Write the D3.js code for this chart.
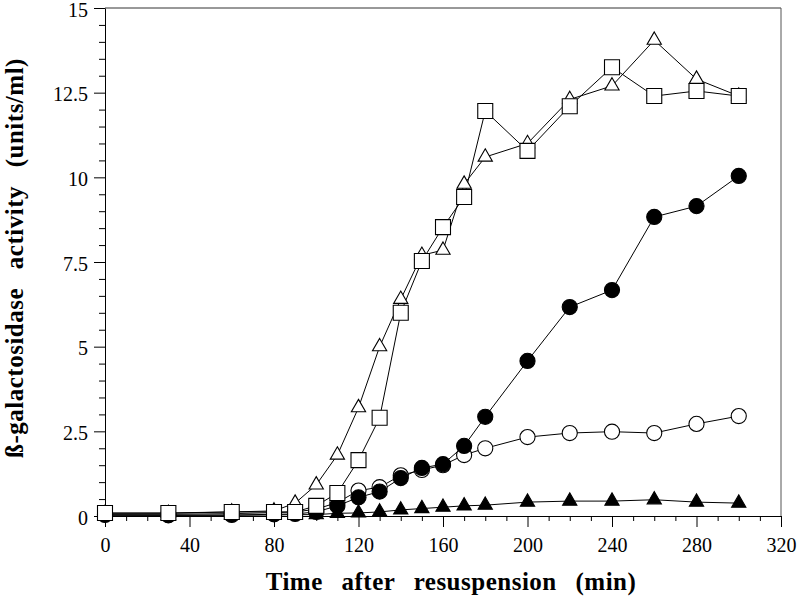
<!DOCTYPE html>
<html><head><meta charset="utf-8">
<script src="https://cdn.jsdelivr.net/npm/d3@7"></script>
<style>body{margin:0;background:#fff}</style>
</head><body><svg id="c" width="800" height="605"></svg>
<script>
// ---- data ----
const times = [0,30,60,80,90,100,110,120,130,140,150,160,170,180,200,220,240,260,280,300];
const openTriangles = [0.08,0.08,0.12,0.15,0.38,0.92,1.8,3.2,5.0,6.4,7.7,7.85,9.8,10.6,11.0,12.3,12.7,14.05,12.9,12.4];
const openSquares   = [0.09,0.09,0.12,0.12,0.12,0.3,0.68,1.65,2.9,6.0,7.53,8.53,9.42,11.96,10.78,12.1,13.25,12.4,12.55,12.4];
const openCircles   = [0.05,0.05,0.07,0.1,0.12,0.2,0.4,0.75,0.85,1.2,1.36,1.5,1.8,2.0,2.33,2.45,2.49,2.45,2.72,2.95];
const filledCircles = [0.03,0.02,0.03,0.05,0.06,0.12,0.3,0.55,0.72,1.12,1.42,1.53,2.07,2.93,4.58,6.17,6.67,8.83,9.15,10.04];
const filledTriangles = [0.02,0.02,0.02,0.03,0.04,0.04,0.08,0.09,0.12,0.18,0.22,0.26,0.3,0.32,0.41,0.44,0.44,0.48,0.41,0.38];
const xTicks = [0,40,80,120,160,200,240,280,320];
const yTicks = [0,2.5,5,7.5,10,12.5,15];
const yTickLabels = ["0","2.5","5","7.5","10","12.5","15"];
const xTitle = "Time after resuspension (min)";
const yTitle = "ß-galactosidase activity (units/ml)";

// ---- chart ----
const svg = d3.select("#c");
const x = d3.scaleLinear().domain([0,320]).range([105,781]);
const y = d3.scaleLinear().domain([0,15]).range([516,8]);
const serif = "'Liberation Serif', 'Times New Roman', serif";

// frame top/right
svg.append("line").attr("x1",105).attr("x2",781).attr("y1",y(15)).attr("y2",y(15)).attr("stroke","#333").attr("stroke-width",1);
svg.append("line").attr("x1",781).attr("x2",781).attr("y1",y(15)).attr("y2",y(0)).attr("stroke","#555").attr("stroke-width",1);

// x axis
const gx = svg.append("g").attr("transform",`translate(0,${y(0)})`)
  .call(d3.axisBottom(x).tickValues(xTicks).tickFormat(d3.format("d")).tickSize(11).tickSizeOuter(0).tickPadding(11));
const gxm = svg.append("g").attr("transform",`translate(0,${y(0)})`)
  .call(d3.axisBottom(x).tickValues(d3.range(0,321,10).filter(d=>d%40!==0)).tickFormat("").tickSize(5));
gxm.select(".domain").remove();

// y axis
const gy = svg.append("g").attr("transform",`translate(${x(0)},0)`)
  .call(d3.axisLeft(y).tickValues(yTicks).tickFormat((d,i)=>yTickLabels[i]).tickSize(11).tickSizeOuter(0).tickPadding(6));
gy.selectAll(".tick text").attr("dy","0.4em");
const gym = svg.append("g").attr("transform",`translate(${x(0)},0)`)
  .call(d3.axisLeft(y).tickValues(d3.range(0,30.5,1).map(d=>d/2).filter(d=>d%2.5!==0)).tickFormat("").tickSize(6));
gym.select(".domain").remove();

svg.selectAll("g").attr("font-family",null);
svg.selectAll(".tick text").style("font-family",serif).style("font-size","20px").attr("fill","#000");
svg.selectAll(".tick line, .domain").attr("stroke","#000").attr("stroke-width",1);

// titles
svg.append("text").attr("x",451).attr("y",590).attr("text-anchor","middle")
  .style("font-family",serif).style("font-weight","bold").style("font-size","25px")
  .attr("letter-spacing",0.5).attr("word-spacing",12).text(xTitle);
svg.append("text").attr("transform","translate(23,258) rotate(-90)").attr("text-anchor","middle")
  .style("font-family",serif).style("font-weight","bold").style("font-size","25px")
  .attr("letter-spacing",0.5).attr("word-spacing",12).text(yTitle);

// series
const series = [
  {vals: filledTriangles, sym: d3.symbolTriangle, size: 88, fill:"#000"},
  {vals: openCircles, sym: d3.symbolCircle, size: 180, fill:"#fff"},
  {vals: filledCircles, sym: d3.symbolCircle, size: 180, fill:"#000"},
  {vals: openTriangles, sym: d3.symbolTriangle, size: 88, fill:"#fff"},
  {vals: openSquares, sym: d3.symbolSquare, size: 225, fill:"#fff"}
];
const line = d3.line().x(d=>x(d[0])).y(d=>y(d[1]));
series.forEach(s=>{
  svg.append("path").datum(times.map((t,i)=>[t,s.vals[i]]))
    .attr("d",line).attr("fill","none").attr("stroke","#000").attr("stroke-width",1);
});
series.forEach(s=>{
  svg.append("g").selectAll("path").data(times.map((t,i)=>[t,s.vals[i]])).join("path")
    .attr("transform",d=>`translate(${x(d[0])},${y(d[1])})`)
    .attr("d",d3.symbol().type(s.sym).size(s.size))
    .attr("fill",s.fill).attr("stroke","#000").attr("stroke-width",1.1);
});
</script></body></html>
